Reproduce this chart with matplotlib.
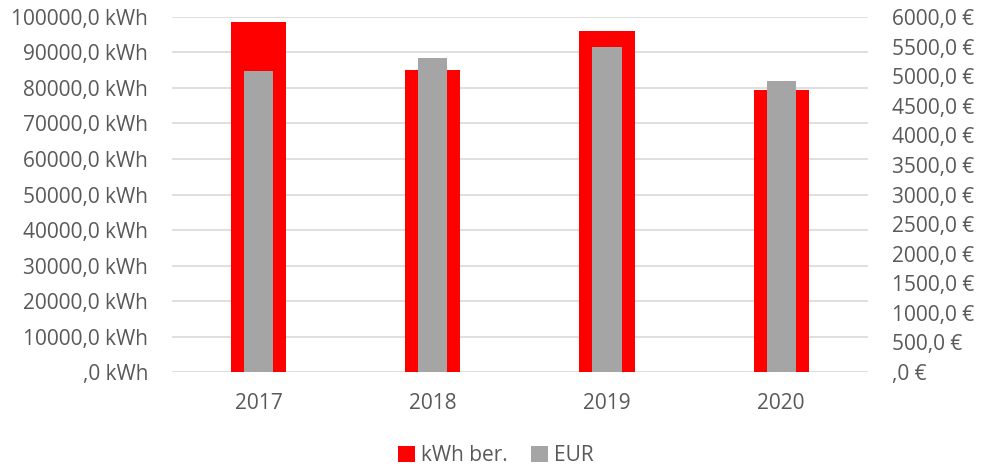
import matplotlib.pyplot as plt
import numpy as np
from matplotlib.ticker import FuncFormatter

# Daten
years = ["2017", "2018", "2019", "2020"]
kwh = [98500, 85100, 96000, 79500]
eur = [5090, 5300, 5490, 4920]

plt.rcParams['font.family'] = ['Open Sans', 'DejaVu Sans']
txt_col = "#595959"

fig = plt.figure(figsize=(9.82, 4.71), dpi=100)
ax = fig.add_axes([0.175, 0.21, 0.709, 0.754])
ax2 = ax.twinx()

x = np.arange(len(years))
b1 = ax.bar(x, kwh, 0.316, color="#ff0000", label="kWh ber.", zorder=2)
b2 = ax2.bar(x, eur, 0.167, color="#a5a5a5", label="EUR", zorder=3)

ax.set_xlim(-0.5, 3.5)
ax.set_ylim(0, 100000)
ax2.set_ylim(0, 6000)
ax.set_yticks(np.arange(0, 100001, 10000))
ax2.set_yticks(np.arange(0, 6001, 500))


def de_fmt(v, unit):
    s = "{:.1f}".format(v).replace(".", ",")
    if s.startswith("0,"):
        s = s[1:]
    return s + " " + unit


ax.yaxis.set_major_formatter(FuncFormatter(lambda v, p: de_fmt(v, "kWh")))
ax2.yaxis.set_major_formatter(FuncFormatter(lambda v, p: de_fmt(v, "€")))
ax.set_xticks(x, years)

ax.grid(axis="y", color="#d9d9d9", lw=1.2, zorder=0)
ax.set_axisbelow(True)
for a in (ax, ax2):
    for sp in a.spines.values():
        sp.set_visible(False)
    a.tick_params(length=0, labelsize=15, colors=txt_col)
ax.tick_params(axis="y", pad=17)
ax.tick_params(axis="x", pad=15)
ax2.tick_params(axis="y", pad=17)
ax.patch.set_visible(False)
ax.set_zorder(ax2.get_zorder() - 1)
ax2.patch.set_visible(False)

fig.legend([b1, b2], ["kWh ber.", "EUR"], loc="lower center", ncol=2,
           bbox_to_anchor=(0.505, -0.03), frameon=False, fontsize=15,
           handlelength=0.8, handleheight=0.8, handletextpad=0.3,
           columnspacing=1.1, labelcolor=txt_col)

fig.savefig("out.png", dpi=100)
